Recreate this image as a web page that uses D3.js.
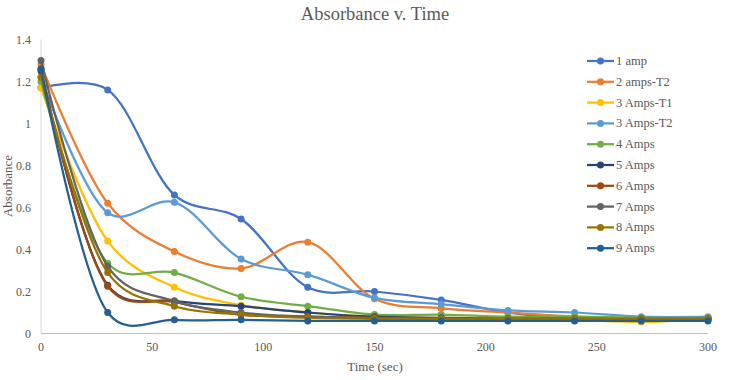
<!DOCTYPE html>
<html><head><meta charset="utf-8">
<script src="https://cdn.jsdelivr.net/npm/d3@7"></script>
<style>body{margin:0;background:#fff}</style>
</head><body><svg id="c" width="746" height="380"></svg>
<script>
const times = [0,30,60,90,120,150,180,210,240,270,300];
const seriesNames = ["1 amp","2 amps-T2","3 Amps-T1","3 Amps-T2","4 Amps","5 Amps","6 Amps","7 Amps","8 Amps","9 Amps"];
const amp1   = [1.17,1.16,0.66,0.545,0.22,0.20,0.16,0.10,0.07,0.07,0.07];
const amp2T2 = [1.28,0.62,0.39,0.31,0.435,0.165,0.12,0.10,0.08,0.07,0.07];
const amp3T1 = [1.17,0.44,0.22,0.135,0.10,0.08,0.075,0.07,0.065,0.055,0.07];
const amp3T2 = [1.22,0.575,0.625,0.355,0.28,0.17,0.14,0.11,0.10,0.08,0.08];
const amp4   = [1.20,0.335,0.29,0.175,0.13,0.09,0.09,0.08,0.08,0.075,0.075];
const amp5   = [1.25,0.23,0.155,0.13,0.10,0.08,0.075,0.07,0.07,0.065,0.065];
const amp6   = [1.26,0.225,0.15,0.09,0.08,0.075,0.07,0.07,0.07,0.07,0.07];
const amp7   = [1.30,0.32,0.155,0.10,0.08,0.075,0.07,0.07,0.07,0.07,0.07];
const amp8   = [1.22,0.29,0.13,0.09,0.075,0.07,0.07,0.07,0.07,0.07,0.07];
const amp9   = [1.26,0.10,0.065,0.065,0.06,0.06,0.06,0.06,0.06,0.06,0.06];
const seriesValues = [amp1,amp2T2,amp3T1,amp3T2,amp4,amp5,amp6,amp7,amp8,amp9];
const colors = ["#4472C4","#ED7D31","#FFC000","#5B9BD5","#70AD47","#264478","#9E480E","#636363","#997300","#255E91"];
const xTicks = [0,50,100,150,200,250,300];
const yTicks = [0,0.2,0.4,0.6,0.8,1,1.2,1.4];

const FONT = "'Liberation Serif','Times New Roman','DejaVu Serif',serif";
const svg = d3.select("#c").attr("font-family",FONT);
const x = d3.scaleLinear().domain([0,300]).range([41,708]);
const y = d3.scaleLinear().domain([0,1.4]).range([333.5,39.5]);

svg.append("text").attr("x",375).attr("y",20).attr("text-anchor","middle").attr("font-family",FONT)
  .attr("font-size",18.5).attr("fill","#595959").text("Absorbance v. Time");

svg.append("line").attr("x1",x(0)).attr("x2",x(300)).attr("y1",y(0)).attr("y2",y(0)).attr("stroke","#BFBFBF");
svg.append("line").attr("x1",x(0)).attr("x2",x(0)).attr("y1",y(0)).attr("y2",y(1.4)).attr("stroke","#D9D9D9");

svg.selectAll(".yt").data(yTicks).join("text").attr("class","yt").attr("font-family",FONT)
  .attr("x",31).attr("y",d=>y(d)+4).attr("text-anchor","end").attr("font-size",12).attr("fill","#595959")
  .text(d=>d3.format("~g")(d));
svg.selectAll(".xt").data(xTicks).join("text").attr("class","xt").attr("font-family",FONT)
  .attr("x",d=>x(d)).attr("y",351).attr("text-anchor","middle").attr("font-size",12).attr("fill","#595959")
  .text(d=>d);

svg.append("text").attr("x",375).attr("y",371).attr("text-anchor","middle").attr("font-family",FONT).attr("font-size",13).attr("fill","#595959").text("Time (sec)");
svg.append("text").attr("transform","translate(12,186) rotate(-90)").attr("text-anchor","middle").attr("font-family",FONT).attr("font-size",13).attr("fill","#595959").text("Absorbance");

const line = d3.line().x((d,i)=>x(times[i])).y(d=>y(d)).curve(d3.curveCatmullRom.alpha(0.25));

seriesValues.forEach((vals,k)=>{
  const g = svg.append("g");
  g.append("path").attr("d",line(vals)).attr("fill","none").attr("stroke",colors[k]).attr("stroke-width",2.25);
  g.selectAll("circle").data(vals).join("circle").attr("cx",(d,i)=>x(times[i])).attr("cy",d=>y(d)).attr("r",3.5).attr("fill",colors[k]);
});

const lg = svg.append("g");
seriesNames.forEach((n,k)=>{
  const yy = 61 + k*20.8;
  lg.append("line").attr("x1",587).attr("x2",614).attr("y1",yy).attr("y2",yy).attr("stroke",colors[k]).attr("stroke-width",2.25);
  lg.append("circle").attr("cx",600.5).attr("cy",yy).attr("r",3.5).attr("fill",colors[k]);
  lg.append("text").attr("x",616).attr("y",yy+4).attr("font-family",FONT).attr("font-size",12.5).attr("fill","#595959").text(n);
});
</script></body></html>
